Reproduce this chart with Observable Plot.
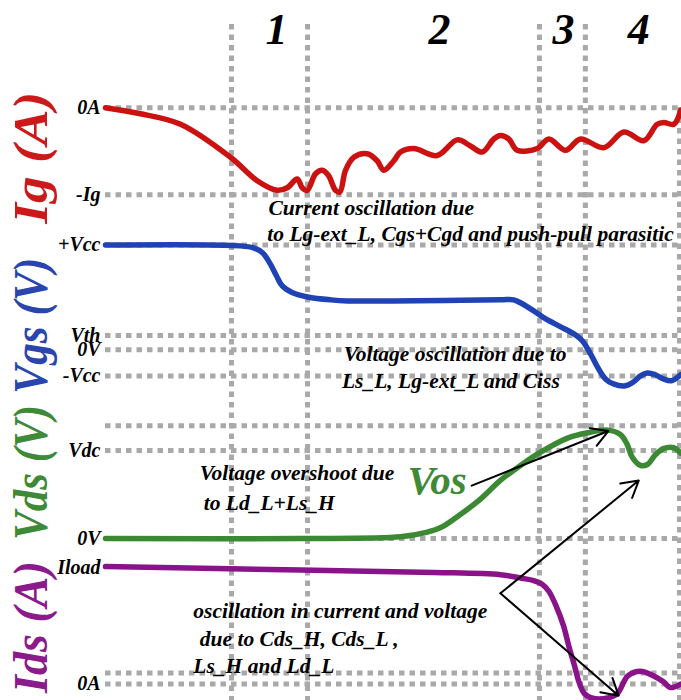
<!DOCTYPE html>
<html><head><meta charset="utf-8">
<script src="https://cdn.jsdelivr.net/npm/d3@7"></script>
<script src="https://cdn.jsdelivr.net/npm/@observablehq/plot@0.6"></script>
<style>
html,body{margin:0;padding:0;background:#fff;}
#chart{position:relative;width:681px;height:700px;overflow:hidden;background:#fff;}
#chart svg{position:absolute;left:0;}
</style></head><body><div id="chart"></div>
<script>
// ---- phases (time axis in arbitrary units 0..100) ----
const phaseBounds = [21.95, 35.2, 75.6, 83.6];
const edgeBound = [100];
const phaseNames = ["1", "2", "3", "4"];
const phaseMid = [29.8, 58.2, 79.8, 92.9];

// ---- Ig (units of Ig, 0A = 0, -Ig = -1) ----
const igT = [0, 6.1, 13.07, 21.78, 26.43, 29.91, 31.66, 33.4, 34.27, 35.14, 36.59, 37.75, 38.85, 40.07, 40.82, 41.81, 43.26, 45.59, 47.33, 48.48, 50.23, 51.39, 53.71, 57.79, 61.27, 63.59, 65.63, 67.65, 68.82, 70.26, 71.72, 75.21, 77.23, 80.14, 82.75, 86.81, 90.3, 93.78, 96.11, 97.26, 99.01, 100.2];
const igV = [0, -0.07, -0.19, -0.57, -0.84, -0.95, -0.92, -0.82, -0.92, -0.95, -0.76, -0.72, -0.78, -0.95, -0.97, -0.72, -0.57, -0.53, -0.61, -0.72, -0.61, -0.51, -0.47, -0.55, -0.37, -0.44, -0.51, -0.36, -0.32, -0.36, -0.49, -0.47, -0.36, -0.49, -0.36, -0.46, -0.28, -0.38, -0.19, -0.17, -0.19, -0.03];
const igTicks = [0, -1];
const igTickLabels = ["0A", "-Ig"];
const igGrid = [0, -1];

// ---- Vgs (schematic units, 0V = 0, -Vcc = -1) ----
const vgsT = [0, 23.5, 25.8, 27.4, 28.7, 29.8, 30.8, 32.6, 35.2, 39.2, 42.2, 68.8, 71.1, 72.6, 74.6, 76.7, 79.3, 81.9, 83.1, 84.5, 85.7, 87.1, 88.5, 90.6, 92.0, 93.2, 94.4, 95.8, 97.2, 98.6, 100.2];
const vgsV = [4.0, 3.97, 3.89, 3.7, 3.28, 2.82, 2.44, 2.18, 2.02, 1.91, 1.87, 1.91, 1.91, 1.76, 1.49, 1.18, 0.88, 0.57, 0.34, -0.15, -0.65, -1.11, -1.3, -1.37, -1.22, -0.99, -0.88, -0.95, -1.11, -1.18, -0.95];
const vgsTicks = [4, 0.55, 0, -1];
const vgsTickLabels = ["+Vcc", "Vth", "0V", "-Vcc"];
const vgsGrid = [4, 0.55, 0, -1];

// ---- Vds (units of Vdc) ----
const vdsT = [0, 34, 51.4, 55.9, 58.4, 61.1, 65.0, 68.8, 72.3, 75.8, 80.5, 84.0, 87.5, 89.7, 90.8, 91.8, 93.2, 94.4, 95.8, 97.2, 99.0, 100.2];
const vdsV = [0, 0, 0.02, 0.07, 0.125, 0.24, 0.43, 0.66, 0.83, 0.98, 1.14, 1.2, 1.23, 1.18, 1.08, 0.92, 0.83, 0.84, 0.95, 1.02, 1.03, 0.97];
const vdsTicks = [1, 0];
const vdsTickLabels = ["Vdc", "0V"];
const vdsGrid = [1.28, 1, 0];

// ---- Ids (units of Iload) ----
const idsT = [0, 34, 57.3, 68.8, 72.5, 74.6, 76.0, 77.2, 78.6, 79.8, 80.8, 81.7, 82.4, 83.4, 84.7, 87.5, 89.2, 91.0, 93.2, 95.5, 97.2, 98.4, 100.2];
const idsV = [1.01, 0.98, 0.96, 0.94, 0.91, 0.89, 0.86, 0.8, 0.66, 0.5, 0.31, 0.16, 0.03, -0.08, -0.12, -0.12, -0.08, 0.07, 0.11, 0.07, 0.02, -0.03, 0];
const idsTicks = [1, 0];
const idsTickLabels = ["Iload", "0A"];
const idsGrid = [0.095, 0];

// ---- annotations ----
const igNotes = ["Current oscillation due", "to Lg-ext_L, Cgs+Cgd and push-pull parasitic"];
const igNoteT = [28.4, 28.2];
const igNoteV = [-1.15, -1.45];
const vgsNotes = ["Voltage oscillation due to", "Ls_L, Lg-ext_L and Ciss"];
const vgsNoteT = [41.5, 41.2];
const vgsNoteV = [-0.15, -1.18];
const vdsNotes = ["Voltage overshoot due", "to Ld_L+Ls_H"];
const vdsNoteT = [16.4, 17.1];
const vdsNoteV = [0.74, 0.40];
const idsNotes = ["oscillation in current and voltage", " due to Cds_H, Cds_L ,", "Ls_H and Ld_L"];
const idsNoteT = [15.3, 15.5, 15.3];
const idsNoteV = [0.63, 0.39, 0.155];
// Vos label and arrow (Vds units)
const vosLabel = ["Vos"];
const vosT = [52.6], vosV = [0.66];
const vosArrow = {t1: 63.8, v1: 0.60, t2: 87.6, v2: 1.22};
// oscillation arrows (Ids units)
const oscT1 = [68.8, 68.8], oscV1 = [0.78, 0.78];
const oscT2 = [92.9, 89.4], oscV2 = [1.75, -0.10];

// ---- titles ----
const titles = ["Ig (A)", "Vgs (V)", "Vds (V)", "Ids (A)"];
const titleColors = ["#cc1a1a", "#2a45ad", "#3f8a37", "#8b1a8b"];
const lineColors = ["#cc1111", "#1f42b4", "#3b8a33", "#8a138a"];

// ---------------- rendering ----------------
const W = 681, ML = 105, MR = 2;
const FONT = "'Liberation Serif','Times New Roman',Times,serif";
const GRID = {stroke: "#a9a9a9", strokeWidth: 5, strokeDasharray: "5.5,5"};
const chart = document.getElementById("chart");

function place(svg, top) {
  svg.style.top = top + "px";
  svg.style.overflow = "visible";
  svg.style.background = "transparent";
  chart.append(svg);
  return svg;
}
function plotOpts(height, domain, marks) {
  return Plot.plot({
    width: W, height, marginLeft: ML, marginRight: MR, marginTop: 0, marginBottom: 0,
    x: {domain: [0, 100], axis: null},
    y: {domain, axis: null},
    style: {fontFamily: FONT, fontStyle: "italic", fontWeight: "bold", background: "transparent", overflow: "visible"},
    marks
  });
}

// background: phase boundaries and labels
place(Plot.plot({
  width: W, height: 700, marginLeft: ML, marginRight: MR, marginTop: 24, marginBottom: 0,
  x: {domain: [0, 100], axis: null},
  style: {fontFamily: FONT, fontStyle: "italic", fontWeight: "bold", background: "transparent", overflow: "visible"},
  marks: [
    Plot.ruleX(phaseBounds, {x: d => d, ...GRID}),
    Plot.text(phaseNames, {x: (d, i) => phaseMid[i], text: d => d, frameAnchor: "top", dy: 5, lineAnchor: "middle", fontSize: 44, fill: "black"})
  ]
}), 0);
place(Plot.plot({
  width: W, height: 700, marginLeft: ML, marginRight: MR, marginTop: 107, marginBottom: 0,
  x: {domain: [0, 100], axis: null},
  style: {background: "transparent", overflow: "visible"},
  marks: [Plot.ruleX(edgeBound, {x: d => d, ...GRID})]
}), 0);

const panels = [
  {top: 55, height: 187, domain: [-1.55, 0.6], t: igT, v: igV, grid: igGrid, ticks: igTicks, labels: igTickLabels,
   notes: igNotes, nT: igNoteT, nV: igNoteV, titleV: -0.575, titleLen: 132},
  {top: 166, height: 241, domain: [-2.2, 7], t: vgsT, v: vgsV, grid: vgsGrid, ticks: vgsTicks, labels: vgsTickLabels,
   notes: vgsNotes, nT: vgsNoteT, nV: vgsNoteV, titleV: 0.92, titleLen: 136},
  {top: 397, height: 194, domain: [-0.6, 1.6], t: vdsT, v: vdsV, grid: vdsGrid, ticks: vdsTicks, labels: vdsTickLabels,
   notes: vdsNotes, nT: vdsNoteT, nV: vdsNoteV, titleV: 0.75, titleLen: 135},
  {top: 544, height: 157, domain: [-0.15, 1.2], t: idsT, v: idsV, grid: idsGrid, ticks: idsTicks, labels: idsTickLabels,
   notes: idsNotes, nT: idsNoteT, nV: idsNoteV, titleV: 0.49, titleLen: 132}
];

// grid layer
panels.forEach(p => {
  place(plotOpts(p.height, p.domain, [Plot.ruleY(p.grid, {y: d => d, ...GRID})]), p.top);
});

// content layer
panels.forEach((p, k) => {
  const marks = [
    Plot.line(p.t, {x: d => d, y: (d, i) => p.v[i], stroke: lineColors[k], strokeWidth: 5.5, curve: "catmull-rom"}),
    Plot.axisY({ticks: p.ticks, tickFormat: d => p.labels[p.ticks.indexOf(d)], tickSize: 0, tickPadding: 5, fontSize: 20, label: null, fill: "black"}),
    Plot.text(p.notes, {x: (d, i) => p.nT[i], y: (d, i) => p.nV[i], text: d => d, textAnchor: "start", lineAnchor: "middle", fontSize: 21.5, fill: "black"}),
    Plot.text([titles[k]], {frameAnchor: "left", y: () => p.titleV, dx: -74, rotate: -90, text: d => d, textAnchor: "middle", lineAnchor: "middle", fontSize: 48, fill: titleColors[k]})
  ];
  if (k === 2) {
    marks.push(Plot.text(vosLabel, {x: (d, i) => vosT[i], y: (d, i) => vosV[i], text: d => d, textAnchor: "start", lineAnchor: "middle", fontSize: 41, fill: titleColors[2]}));
    marks.push(Plot.arrow([vosArrow], {x1: "t1", y1: "v1", x2: "t2", y2: "v2", stroke: "black", strokeWidth: 2, headLength: 14, headAngle: 60}));
  }
  if (k === 3) {
    marks.push(Plot.arrow(oscT1, {x1: d => d, y1: (d, i) => oscV1[i], x2: (d, i) => oscT2[i], y2: (d, i) => oscV2[i], stroke: "black", strokeWidth: 2, headLength: 14, headAngle: 60}));
  }
  const svg = place(plotOpts(p.height, p.domain, marks), p.top);
  svg.querySelectorAll("text").forEach(t => {
    if (t.textContent === titles[k]) {
      t.setAttribute("textLength", p.titleLen);
      t.setAttribute("lengthAdjust", "spacingAndGlyphs");
    }
  });
});
</script>
</body></html>
